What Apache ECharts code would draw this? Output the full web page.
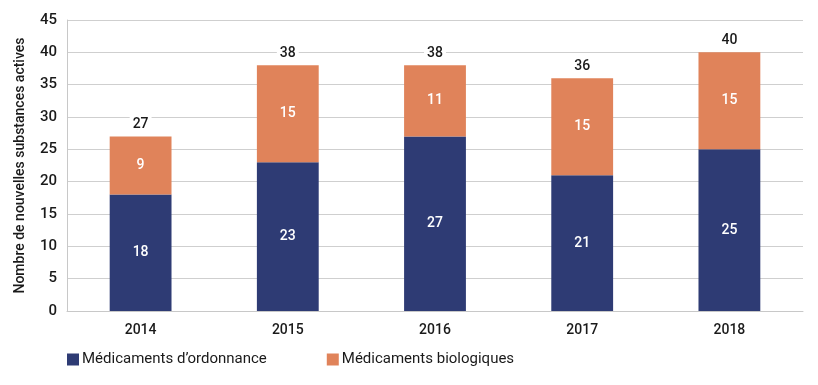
<!DOCTYPE html>
<html><head><meta charset="utf-8">
<script src="https://cdn.jsdelivr.net/npm/echarts@6/dist/echarts.min.js"></script>
<style>html,body{margin:0;padding:0;background:#fff}#c{width:818px;height:385px}</style>
</head><body><div id="c"></div>
<script>
const categories = ['2014','2015','2016','2017','2018'];
const prescription = [18, 23, 27, 21, 25];
const biologic = [9, 15, 11, 15, 15];
const totals = [27, 38, 38, 36, 40];
const yTicks = {min: 0, max: 45, interval: 5};
const FONT = 'Roboto';
const TXT = '#1a1a1a';
const chart = echarts.init(document.getElementById('c'));
chart.setOption({
  animation: false,
  textStyle: {fontFamily: FONT},
  grid: {left: 67, right: 15, top: 20, bottom: 74},
  legend: {
    data: ['Médicaments d’ordonnance', 'Médicaments biologiques'],
    left: 62, top: 347, itemWidth: 12, itemHeight: 12, itemGap: 60,
    icon: 'rect',
    textStyle: {fontFamily: FONT, fontSize: 15, color: TXT, padding: [0, 0, 0, -2]}
  },
  xAxis: {
    type: 'category', data: categories,
    axisLine: {lineStyle: {color: '#c8c8c8', width: 1}},
    axisTick: {show: false},
    axisLabel: {fontFamily: FONT, fontSize: 14, color: TXT, margin: 12, fontWeight: 500}
  },
  yAxis: {
    type: 'value', min: yTicks.min, max: yTicks.max, interval: yTicks.interval,
    name: 'Nombre de nouvelles substances actives', nameLocation: 'middle', nameGap: 40,
    nameTextStyle: {fontFamily: FONT, fontSize: 14, color: TXT, fontWeight: 500},
    axisLine: {show: true, lineStyle: {color: '#c8c8c8'}},
    axisTick: {show: false},
    splitLine: {lineStyle: {color: '#cfcfcf'}},
    axisLabel: {fontFamily: FONT, fontSize: 15, color: TXT, margin: 10, fontWeight: 500}
  },
  series: [
    {name: 'Médicaments d’ordonnance', type: 'bar', stack: 's', data: prescription, barWidth: '42%',
     itemStyle: {color: '#2e3b74'},
     label: {show: true, position: 'inside', color: '#fff', fontSize: 14, fontFamily: FONT, fontWeight: 500}},
    {name: 'Médicaments biologiques', type: 'bar', stack: 's', data: biologic, barWidth: '42%',
     itemStyle: {color: '#e0835a'},
     label: {show: true, position: 'inside', color: '#fff', fontSize: 14, fontFamily: FONT, fontWeight: 500}},
    {name: 'total', type: 'bar', stack: 's', data: totals.map(() => 0), barWidth: '42%',
     itemStyle: {color: 'transparent'},
     label: {show: true, position: 'top', distance: 4, color: TXT, fontSize: 14, fontFamily: FONT, fontWeight: 500,
       backgroundColor: '#fff', padding: [1, 3],
       formatter: p => totals[p.dataIndex]}}
  ]
});
</script></body></html>
